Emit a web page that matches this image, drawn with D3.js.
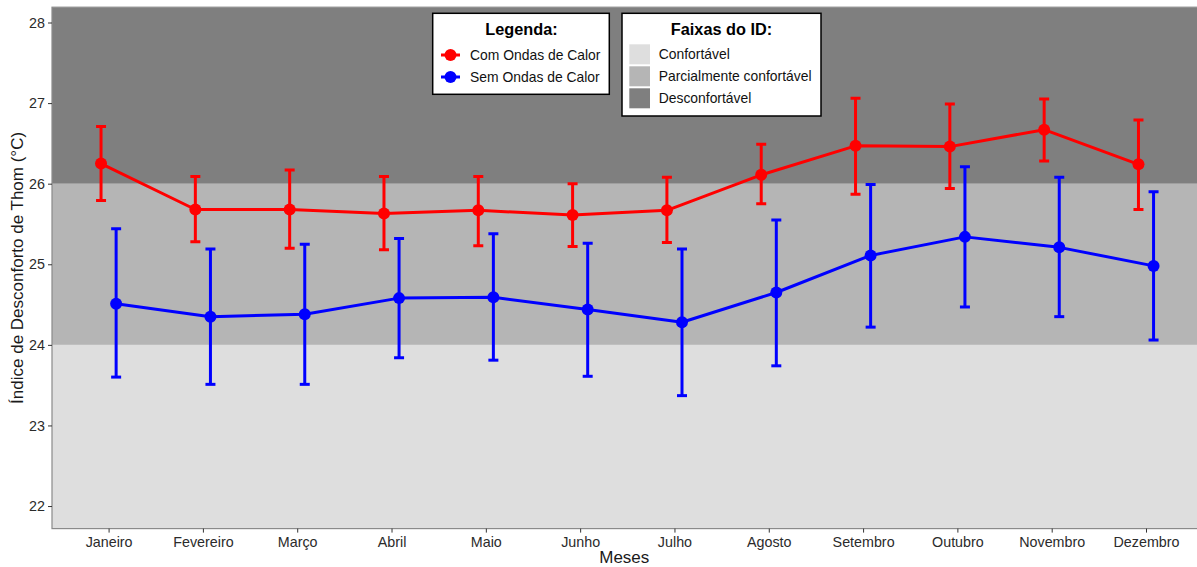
<!DOCTYPE html>
<html>
<head>
<meta charset="utf-8">
<script src="https://cdn.jsdelivr.net/npm/d3@7"></script>
<style>
  html, body { margin: 0; padding: 0; background: #fff; }
  svg { display: block; font-family: "Liberation Sans", Arial, sans-serif; }
</style>
</head>
<body>
<svg id="chart" width="1197" height="567"></svg>
<script>
// Months on the x axis
const months = ["Janeiro","Fevereiro","Março","Abril","Maio","Junho","Julho","Agosto","Setembro","Outubro","Novembro","Dezembro"];

// Mean Thom Discomfort Index and error-bar limits, with heat waves
const comMean  = [26.25, 25.68, 25.68, 25.63, 25.67, 25.61, 25.67, 26.11, 26.47, 26.46, 26.67, 26.24];
const comUpper = [26.71, 26.09, 26.17, 26.09, 26.09, 26.00, 26.08, 26.49, 27.06, 26.99, 27.05, 26.79];
const comLower = [25.79, 25.28, 25.20, 25.18, 25.23, 25.22, 25.27, 25.75, 25.87, 25.94, 26.28, 25.68];

// Same, without heat waves
const semMean  = [24.51, 24.35, 24.38, 24.58, 24.59, 24.44, 24.28, 24.65, 25.11, 25.34, 25.21, 24.98];
const semUpper = [25.44, 25.19, 25.25, 25.32, 25.38, 25.26, 25.19, 25.55, 25.99, 26.21, 26.08, 25.90];
const semLower = [23.60, 23.51, 23.51, 23.84, 23.81, 23.61, 23.37, 23.74, 24.22, 24.47, 24.35, 24.06];

// ID comfort bands (lower / upper limits)
const bandNames = ["Confortável", "Parcialmente confortável", "Desconfortável"];
const bandLow   = [-Infinity, 24, 26];
const bandHigh  = [24, 26, Infinity];

const yTicks = [22, 23, 24, 25, 26, 27, 28];

const seriesNames = ["Com Ondas de Calor", "Sem Ondas de Calor"];

const bandColors = ["#dedede", "#b5b5b5", "#7f7f7f"];
const seriesColors = ["#ff0000", "#0000ff"];

const svg = d3.select("#chart");
const m = { left: 52, right: 1202.6, top: 7.2, bottom: 528.6 };

const x = d3.scalePoint().domain(months).range([m.left, m.right]).padding(0.6);
const y = d3.scaleLinear().domain([21.72, 28.19]).range([m.bottom, m.top]);
const dodge = x.step() * 0.08;

svg.append("defs").append("clipPath").attr("id", "panel")
  .append("rect").attr("x", m.left).attr("y", m.top)
  .attr("width", m.right - m.left).attr("height", m.bottom - m.top);

const panel = svg.append("g").attr("clip-path", "url(#panel)");

// comfort bands
const [y0, y1] = y.domain();
panel.selectAll("rect.band").data(bandNames).join("rect")
  .attr("class", "band")
  .attr("x", m.left).attr("width", m.right - m.left)
  .attr("y", (d, i) => y(Math.min(bandHigh[i], y1)))
  .attr("height", (d, i) => y(Math.max(bandLow[i], y0)) - y(Math.min(bandHigh[i], y1)))
  .attr("fill", (d, i) => bandColors[i]);

const series = [
  { name: seriesNames[0], mean: comMean, lo: comLower, hi: comUpper, color: seriesColors[0], off: -dodge },
  { name: seriesNames[1], mean: semMean, lo: semLower, hi: semUpper, color: seriesColors[1], off: dodge }
];

const line = d3.line();
series.forEach(s => {
  const pts = months.map((mo, i) => [x(mo) + s.off, y(s.mean[i])]);
  panel.append("path").attr("d", line(pts))
    .attr("fill", "none").attr("stroke", s.color).attr("stroke-width", 3)
    .attr("stroke-linejoin", "round");

  const eb = panel.append("g").attr("stroke", s.color).attr("stroke-width", 3).attr("fill", "none");
  months.forEach((mo, i) => {
    const cx = x(mo) + s.off;
    eb.append("line").attr("x1", cx).attr("x2", cx).attr("y1", y(s.hi[i])).attr("y2", y(s.lo[i]));
    eb.append("line").attr("x1", cx - 5).attr("x2", cx + 5).attr("y1", y(s.hi[i])).attr("y2", y(s.hi[i]));
    eb.append("line").attr("x1", cx - 5).attr("x2", cx + 5).attr("y1", y(s.lo[i])).attr("y2", y(s.lo[i]));
  });

  panel.append("g").selectAll("circle").data(s.mean).join("circle")
    .attr("cx", (d, i) => x(months[i]) + s.off)
    .attr("cy", d => y(d))
    .attr("r", 6)
    .attr("fill", s.color);
});

// panel border
svg.append("rect").attr("x", m.left).attr("y", m.top)
  .attr("width", m.right - m.left).attr("height", m.bottom - m.top)
  .attr("fill", "none").attr("stroke", "#8a8a8a").attr("stroke-width", 1.2);

// axes
const xAxis = svg.append("g").attr("transform", `translate(0,${m.bottom})`)
  .call(d3.axisBottom(x).tickSize(4).tickPadding(4));
const yAxis = svg.append("g").attr("transform", `translate(${m.left},0)`)
  .call(d3.axisLeft(y).tickValues(yTicks).tickSize(4).tickPadding(3).tickFormat(d3.format("d")));
[xAxis, yAxis].forEach(a => {
  a.select(".domain").remove();
  a.selectAll(".tick line").attr("stroke", "#333").attr("stroke-width", 1);
  a.selectAll(".tick text").attr("fill", "#2b2b2b").style("font-size", "14.3px")
    .style("font-family", "'Liberation Sans', Arial, sans-serif");
});

svg.append("text").attr("x", (m.left + m.right) / 2 - 3).attr("y", 563)
  .attr("text-anchor", "middle").style("font-size", "17px").attr("fill", "#1a1a1a").text("Meses");
svg.append("text").attr("transform", `translate(23,${(m.top + m.bottom) / 2}) rotate(-90)`)
  .attr("text-anchor", "middle").style("font-size", "17px").attr("fill", "#1a1a1a")
  .text("Índice de Desconforto de Thom (°C)");

// legend: series
const lg = svg.append("g");
lg.append("rect").attr("x", 432.7).attr("y", 13.3).attr("width", 176.6).attr("height", 81)
  .attr("fill", "#fff").attr("stroke", "#000").attr("stroke-width", 1.5);
lg.append("text").attr("x", 521.5).attr("y", 35).attr("text-anchor", "middle")
  .style("font-size", "16.3px").style("font-weight", "bold").text("Legenda:");
seriesNames.forEach((n, i) => {
  const cy = 55 + i * 22;
  lg.append("line").attr("x1", 441).attr("x2", 460).attr("y1", cy).attr("y2", cy)
    .attr("stroke", seriesColors[i]).attr("stroke-width", 3);
  lg.append("circle").attr("cx", 450.5).attr("cy", cy).attr("r", 6).attr("fill", seriesColors[i]);
  lg.append("text").attr("x", 470).attr("y", cy + 5).style("font-size", "13.9px").attr("fill", "#111").text(n);
});

// legend: bands
const lb = svg.append("g");
lb.append("rect").attr("x", 622).attr("y", 13.3).attr("width", 199).attr("height", 102.7)
  .attr("fill", "#fff").attr("stroke", "#000").attr("stroke-width", 1.5);
lb.append("text").attr("x", 721.5).attr("y", 35).attr("text-anchor", "middle")
  .style("font-size", "16.3px").style("font-weight", "bold").text("Faixas do ID:");
bandNames.forEach((n, i) => {
  const top = 44.3 + i * 22;
  lb.append("rect").attr("x", 629.3).attr("y", top).attr("width", 20.7).attr("height", 20)
    .attr("fill", bandColors[i]);
  lb.append("text").attr("x", 658.7).attr("y", top + 15).style("font-size", "13.9px").attr("fill", "#111").text(n);
});
</script>
</body>
</html>
